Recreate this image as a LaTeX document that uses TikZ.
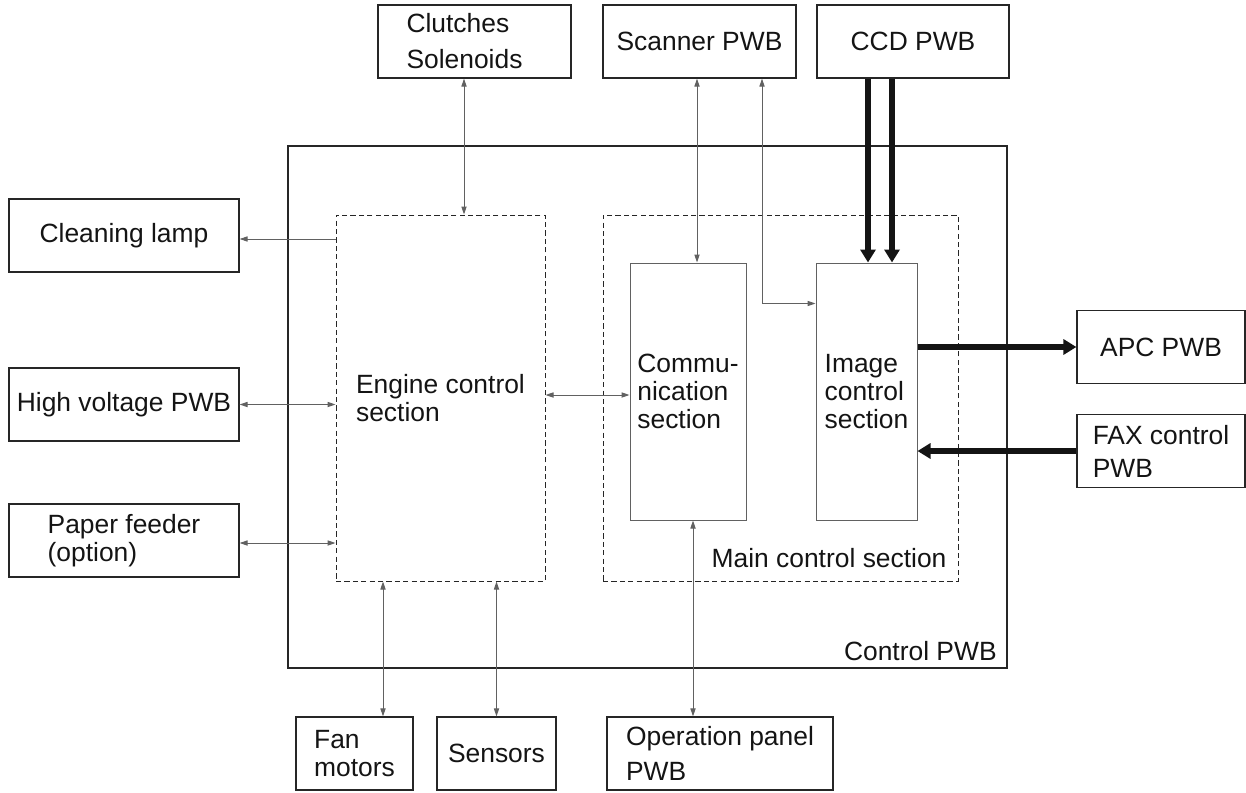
\documentclass[tikz,border=0pt]{standalone}
\usepackage{fontspec}
\setmainfont{Liberation Sans}
\usetikzlibrary{arrows.meta}

\begin{document}
\begin{tikzpicture}[x=0.5pt,y=-0.5pt,font=\fontsize{13.2}{14}\selectfont,line join=miter]
\colorlet{boxc}{black!85}
\colorlet{wirec}{black!62}
\colorlet{busc}{black!92}
\colorlet{txtc}{black!92}

\tikzset{
unitbox/.style={draw=boxc, line width=0.6pt, text=txtc, inner sep=0pt, align=center, minimum height=36.5pt},
subbox/.style={draw=wirec, line width=0.5pt, text=txtc, inner sep=0pt, align=left, minimum height=128.5pt},
secbox/.style={draw=boxc, line width=0.5pt, dash pattern=on 2.6pt off 1.6pt, text=txtc, inner sep=0pt, minimum height=183pt},
biarrow/.style={draw=wirec, line width=0.5pt, {Triangle[length=4pt,width=2.6pt]}-{Triangle[length=4pt,width=2.6pt]}},
onearrow/.style={draw=wirec, line width=0.5pt, -{Triangle[length=4pt,width=2.6pt]}},
busarrow/.style={draw=busc, line width=3pt, -{Triangle[length=6.5pt,width=7.5pt]}}
}

\useasboundingbox (0,0) rectangle (1246,792);

\node[draw=boxc, line width=0.7pt, inner sep=0pt, minimum width=359.5pt, minimum height=261pt] (ctrl) at (647.5,407) {};
\node[secbox, minimum width=104.5pt, align=left] (engine) at (440.5,398) {Engine control\\section};
\node[secbox, minimum width=177.5pt] (mainctl) at (780.5,398) {};
\node[subbox, minimum width=58pt] (comm) at (688,391.5) {Commu-\\nication\\section};
\node[subbox, minimum width=50.5pt] (imgctl) at (866.5,391.5) {Image\\control\\section};
\node[anchor=base east, text=txtc] (mainlbl) at ([xshift=-2.5pt,yshift=7.25pt]mainctl.south east) {Main control section};
\node[anchor=base east, text=txtc] (ctrllbl) at ([xshift=-2pt,yshift=4.25pt]ctrl.south east) {Control PWB};

\node[unitbox, minimum width=96.5pt, align=left] (clutch) at (474.5,41.5) {Clutches\\[4pt]Solenoids\hspace*{10pt}};
\node[unitbox, minimum width=96.5pt] (scanner) at (699.5,41.5) {Scanner PWB};
\node[unitbox, minimum width=96pt] (ccd) at (913,41.5) {CCD PWB};

\node[unitbox, minimum width=115pt] (lamp) at (124,235.5) {Cleaning lamp};
\node[unitbox, minimum width=115pt] (hv) at (124,404.5) {High voltage PWB};
\node[unitbox, minimum width=115pt, align=left] (feeder) at (124,540.5) {Paper feeder\\(option)};

\node[unitbox, minimum width=84pt] (apc) at (1161,347) {APC PWB};
\node[unitbox, minimum width=84pt, align=left] (fax) at (1161,451) {FAX control\\[2.5pt]PWB};

\node[unitbox, minimum width=58.5pt, align=left] (fan) at (354.5,753.5) {Fan\\motors};
\node[unitbox, minimum width=59.5pt] (sensors) at (496.5,753.5) {Sensors};
\node[unitbox, minimum width=113pt, align=left] (oppanel) at (720,753.5) {Operation panel\\[3.5pt]PWB};

\coordinate (clin) at ([xshift=-5.25pt]clutch.south);
\draw[biarrow] (clin) -- (clin |- engine.north);
\coordinate (lampin) at ([yshift=-1.75pt]lamp.east);
\draw[onearrow] (lampin -| engine.west) -- (lampin);
\draw[biarrow] (hv.east) -- (hv.east -| engine.west);
\coordinate (feedin) at ([yshift=-1.25pt]feeder.east);
\draw[biarrow] (feedin) -- (feedin -| engine.west);
\coordinate (engout) at ([yshift=1.5pt]engine.east);
\draw[biarrow] (engout) -- (engout -| comm.west);

\coordinate (scan1) at ([xshift=-1.25pt]scanner.south);
\draw[biarrow] (scan1) -- (scan1 |- comm.north);
\coordinate (scan2) at ([xshift=31.25pt]scanner.south);
\coordinate (imgin) at ([yshift=-20.5pt]imgctl.north west);
\draw[biarrow] (scan2) |- (imgin);

\coordinate (ccd1) at ([xshift=-22.5pt]ccd.south);
\coordinate (ccd2) at ([xshift=-10.5pt]ccd.south);
\draw[busarrow] (ccd1) -- (ccd1 |- imgctl.north);
\draw[busarrow] (ccd2) -- (ccd2 |- imgctl.north);
\draw[busarrow] (imgctl.east |- apc.west) -- (apc.west);
\draw[busarrow] (fax.west) -- (fax.west -| imgctl.east);

\coordinate (fan1) at ([xshift=14.25pt]fan.north);
\draw[biarrow] (fan1) -- (fan1 |- engine.south);
\draw[biarrow] (sensors.north) -- (sensors.north |- engine.south);
\coordinate (op1) at ([xshift=-13.5pt]oppanel.north);
\draw[biarrow] (op1) -- (op1 |- comm.south);
\end{tikzpicture}
\end{document}
